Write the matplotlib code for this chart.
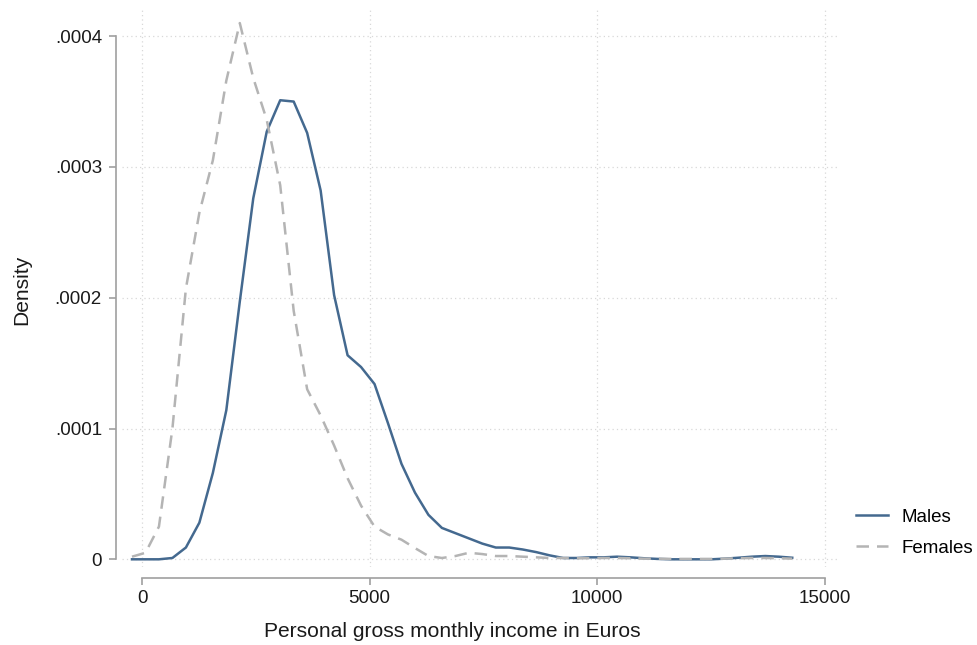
import matplotlib
matplotlib.use("Agg")
import matplotlib.pyplot as plt

# kernel density estimates of personal gross monthly income, by sex
income_grid = [
    -220, 76, 372, 668, 964, 1260, 1556, 1852, 2148, 2444,
    2740, 3036, 3332, 3628, 3924, 4220, 4516, 4812, 5108, 5404,
    5700, 5996, 6292, 6588, 6884, 7180, 7476, 7772, 8068, 8364,
    8660, 8956, 9252, 9548, 9844, 10140, 10436, 10732, 11028, 11324,
    11620, 11916, 12212, 12508, 12804, 13100, 13396, 13692, 13988, 14284,
]
males_density = [
    0.0, 0.0, 0.0, 0.000001, 0.000009, 0.000028, 0.000066, 0.000114, 0.000197, 0.000276,
    0.000327, 0.000351, 0.000350, 0.000326, 0.000282, 0.000202, 0.000156, 0.000147, 0.000134, 0.000104,
    0.000073, 0.000051, 0.000034, 0.000024, 0.000020, 0.000016, 0.000012, 0.000009, 0.000009, 0.0000075,
    0.0000055, 0.000003, 0.000001, 0.000001, 0.0000015, 0.0000015, 0.000002, 0.0000015, 0.0000008, 0.0000003,
    0.0, 0.0, 0.0, 0.0, 0.0000005, 0.0000012, 0.000002, 0.0000025, 0.000002, 0.0000012,
]
females_density = [
    0.000002, 0.000005, 0.000025, 0.000100, 0.000207, 0.000265, 0.000305, 0.000366, 0.000410, 0.000368,
    0.000336, 0.000286, 0.000190, 0.000130, 0.000110, 0.000087, 0.000062, 0.000041, 0.000025, 0.000019,
    0.000015, 0.0000086, 0.0000025, 0.000001, 0.0000025, 0.000005, 0.000004, 0.0000025, 0.0000025, 0.000002,
    0.0000015, 0.000001, 0.000001, 0.0000008, 0.0000008, 0.000001, 0.000001, 0.0000008, 0.0000005, 0.0000005,
    0.0000003, 0.0000003, 0.0000003, 0.0000003, 0.0000005, 0.0000008, 0.000001, 0.000001, 0.0000008, 0.0000005,
]
x_ticks = [0, 5000, 10000, 15000]
y_ticks = [0, 0.0001, 0.0002, 0.0003, 0.0004]
y_tick_labels = ["0", ".0001", ".0002", ".0003", ".0004"]

plt.rcParams["font.family"] = ["Liberation Sans", "DejaVu Sans"]

fig = plt.figure(figsize=(9.77, 6.45), dpi=100)
ax = fig.add_axes([0.1249, 0.1209, 0.7349, 0.8636])

ax.plot(income_grid, males_density, color="#44698f", lw=1.8, label="Males")
ax.plot(income_grid, females_density, color="#b4b4b4", lw=1.8,
        dashes=(5, 3.2), label="Females")

ax.set_xlim(-439, 15334)
ax.set_ylim(-0.0000059, 0.00042)

ax.set_xticks(x_ticks)
ax.set_xticklabels([str(t) for t in x_ticks])
ax.set_yticks(y_ticks)
ax.set_yticklabels(y_tick_labels)

ax.grid(True, linestyle=(0, (1, 2.5)), color="#d8d8d8", lw=0.9)
ax.set_axisbelow(True)

for side in ("top", "right"):
    ax.spines[side].set_visible(False)
ax.spines["left"].set_position(("outward", 4))
ax.spines["bottom"].set_position(("outward", 8))
ax.spines["left"].set_bounds(0, 0.0004)
ax.spines["bottom"].set_bounds(0, 15000)
for side in ("left", "bottom"):
    ax.spines[side].set_color("#a0a0a0")
    ax.spines[side].set_linewidth(1.2)

ax.tick_params(axis="both", direction="out", length=5, width=1.2,
               color="#a0a0a0", labelsize=13.5, labelcolor="#1a1a1a")
ax.tick_params(axis="y", pad=5.5)
ax.tick_params(axis="x", pad=3.5)

ax.set_xlabel("Personal gross monthly income in Euros", fontsize=15.1,
              color="#1a1a1a")
ax.set_ylabel("Density", fontsize=15.1, color="#1a1a1a")
ax.xaxis.set_label_coords(0.4596, -0.099)
ax.yaxis.set_label_coords(-0.127, 0.497)

ax.legend(loc="center left", bbox_to_anchor=(0.876, 0.174),
          bbox_transform=fig.transFigure, frameon=False, fontsize=13.5,
          handlelength=1.7, handletextpad=0.75, labelspacing=0.72,
          borderaxespad=0, borderpad=0)

fig.savefig("out.png", dpi=100, facecolor="white")
